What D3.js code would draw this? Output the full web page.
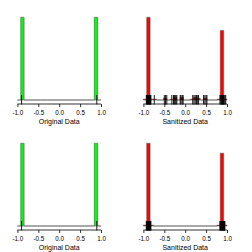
<!DOCTYPE html>
<html>
<head>
<meta charset="utf-8">
<script src="https://cdn.jsdelivr.net/npm/d3@7"></script>
<style>
  body { margin: 0; background: #fff; }
  svg { display: block; font-family: "Liberation Sans", Arial, sans-serif; }
</style>
</head>
<body>
<svg id="chart" width="252" height="252"></svg>
<script>
// Histogram breaks (width 0.08 from -1 to 1)
const breaks = [-1, -0.92, -0.84, -0.76, -0.68, -0.6, -0.52, -0.44, -0.36, -0.28, -0.2,
  -0.12, -0.04, 0.04, 0.12, 0.2, 0.28, 0.36, 0.44, 0.52, 0.6, 0.68, 0.76, 0.84, 0.92, 1];
const xTicks = [-1, -0.5, 0, 0.5, 1];

// Counts per bin
const countsOriginal = [0, 100, 0, 0, 0, 0, 0, 0, 0, 0, 0, 0, 0, 0, 0, 0, 0, 0, 0, 0, 0, 0, 0, 100, 0];
const countsSanitizedA = [1, 100, 1, 1, 0, 0, 2, 0, 1, 3, 0, 3, 0, 0, 1, 3, 2, 0, 2, 0, 0, 0, 1, 84, 1];
const countsSanitizedB = [1, 100, 1, 0, 0, 0, 0, 0, 0, 0, 0, 0, 0, 0, 0, 0, 0, 0, 0, 0, 0, 0, 1, 88, 1];

// Rug values
const rugOriginal = [-0.9, 0.9];
const rugSanitizedA = [-0.93, -0.92, -0.91, -0.9, -0.89, -0.88, -0.87, -0.86, -0.85, -0.84, -0.83, -0.82,
  -0.74, -0.5, -0.47, -0.44, -0.32, -0.28, -0.26, -0.24, -0.22, -0.2, -0.12, -0.1, -0.07, -0.05,
  0.18, 0.21, 0.24, 0.27, 0.3, 0.32, 0.44, 0.47, 0.5, 0.52,
  0.83, 0.85, 0.87, 0.88, 0.89, 0.9, 0.91, 0.92, 0.93, 0.95, 0.97];
const rugSanitizedB = [-0.93, -0.92, -0.91, -0.9, -0.89, -0.88, -0.87, -0.86, -0.85, -0.84, -0.83, -0.82,
  0.83, 0.84, 0.85, 0.86, 0.87, 0.88, 0.89, 0.9, 0.91, 0.92, 0.93, 0.94, 0.95];

const panels = [
  {x: 0, y: 0, counts: countsOriginal, rug: rugOriginal, fill: '#00ff00', label: 'Original Data'},
  {x: 126, y: 0, counts: countsSanitizedA, rug: rugSanitizedA, fill: '#ff0000', label: 'Sanitized Data'},
  {x: 0, y: 126, counts: countsOriginal, rug: rugOriginal, fill: '#00ff00', label: 'Original Data'},
  {x: 126, y: 126, counts: countsSanitizedB, rug: rugSanitizedB, fill: '#ff0000', label: 'Sanitized Data'}
];

const svg = d3.select('#chart');

panels.forEach(p => {
  const g = svg.append('g').attr('transform', `translate(${p.x}, ${p.y})`);

  const xScale = d3.scaleLinear([-1, 1], [17.4, 101]);
  const yScale = d3.scaleLinear([0, d3.max(p.counts)], [100, 17.3]);

  const bins = p.counts.map((c, i) => ({x0: breaks[i], x1: breaks[i + 1], count: c}));

  //bars, drawn as paths so zero counts still show as a flat line
  g.selectAll('.bar')
    .data(bins)
    .enter()
    .append('path')
    .attr('class', 'bar')
    .attr('d', d => {
      const x0 = xScale(d.x0), x1 = xScale(d.x1), y0 = yScale(0), y1 = yScale(d.count);
      return `M${x0},${y0}L${x0},${y1}L${x1},${y1}L${x1},${y0}Z`;
    })
    .style('fill', p.fill)
    .style('stroke', '#555')
    .style('stroke-width', 0.6);

  //rug
  g.selectAll('.rug')
    .data(p.rug)
    .enter()
    .append('line')
    .attr('class', 'rug')
    .attr('x1', d => xScale(d))
    .attr('x2', d => xScale(d))
    .attr('y1', 104.5)
    .attr('y2', 95)
    .style('stroke', '#000')
    .style('stroke-width', 0.9);

  //x axis
  const xAxis = d3.axisBottom(xScale)
    .tickValues(xTicks)
    .tickFormat(d3.format('.1f'))
    .tickSizeInner(3)
    .tickSizeOuter(0);

  const axisG = g.append('g')
    .attr('class', 'x axis')
    .attr('transform', 'translate(0, 104)')
    .call(xAxis);
  axisG.select('.domain').attr('d', `M${xScale(-1)},0H${xScale(1)}`).style('stroke', '#000').style('stroke-width', 0.8);
  axisG.selectAll('.tick line').style('stroke', '#000').style('stroke-width', 0.8);
  axisG.selectAll('.tick text')
    .attr('y', 6.5)
    .style('font-size', '6.3px')
    .style('fill', '#000')
    .style('font-family', '"Liberation Sans", Arial, sans-serif')
    .text(d => d3.format('.1f')(d).replace('−', '-'));

  g.append('text')
    .attr('x', (xScale(-1) + xScale(1)) / 2)
    .attr('y', 124)
    .attr('text-anchor', 'middle')
    .style('font-size', '7px')
    .style('fill', '#000')
    .text(p.label);
});
</script>
</body>
</html>
